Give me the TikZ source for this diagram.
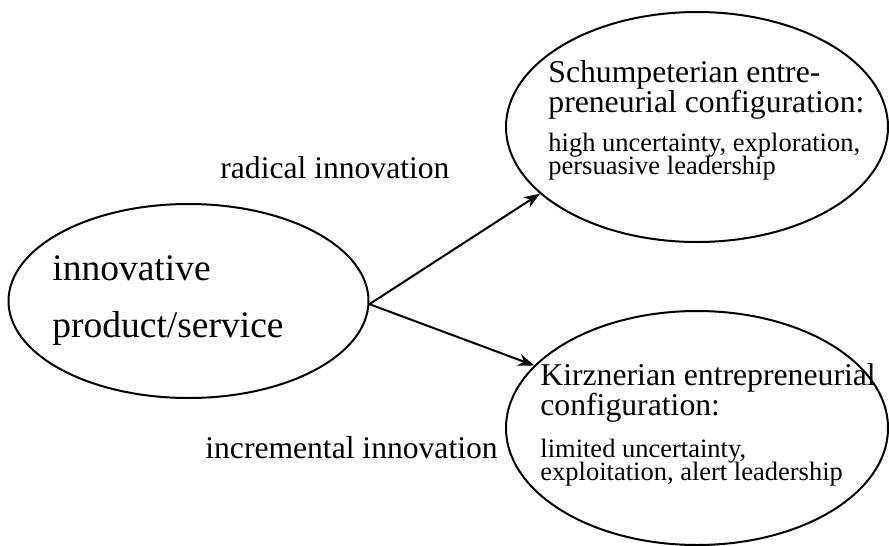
\documentclass[tikz,border=0pt]{standalone}
\usepackage{fontspec}
\setmainfont{Liberation Serif}
\usetikzlibrary{shapes.geometric}
\usetikzlibrary{arrows.meta}

\newcommand{\tightlines}{\lineskiplimit=-20pt\relax}

\tikzset{
  bubble/.style={draw, ellipse, line width=1pt, inner sep=0pt},
  bigtxt/.style={anchor=base west, inner sep=0pt, align=left,
    font=\fontsize{18.75}{28.5}\selectfont},
  headtxt/.style={anchor=base west, inner sep=0pt, align=left,
    font={\fontsize{15.85}{15}\selectfont\tightlines}},
  smalltxt/.style={anchor=base west, inner sep=0pt, align=left,
    font={\fontsize{13.25}{11.3}\selectfont\tightlines}},
  lbltxt/.style={anchor=base west, inner sep=0pt,
    font=\fontsize{15.8}{18}\selectfont},
  flow/.style={line width=1pt, -{Stealth[length=8pt,width=6pt]}}
}

\begin{document}
\begin{tikzpicture}[x=0.5pt,y=-0.5pt]
\useasboundingbox (0,0) rectangle (889,546);
% the three ellipses
\node[bubble, minimum width=180pt, minimum height=97pt] (inno) at (188.5,301) {};
\node[bubble, minimum width=191pt, minimum height=115pt] (schump) at (697,127) {};
\node[bubble, minimum width=191pt, minimum height=117pt] (kirz) at (697,428) {};
% texts (base = baseline of the last line)
\node[bigtxt] (innotxt) at (52,337) {innovative\\product/service};
\node[headtxt] (schumphead) at (548,112) {Schumpeterian entre-\\preneurial configuration:};
\node[smalltxt] (schumpsub) at (548,174) {high uncertainty, exploration,\\persuasive leadership};
\node[headtxt] (kirzhead) at (540,415) {Kirznerian entrepreneurial\\configuration:};
\node[smalltxt] (kirzsub) at (540,480) {limited uncertainty,\\exploitation, alert leadership};
% arrows
\draw[flow] (inno.-1) -- (schump.203);
\draw[flow] (inno.-1) -- (kirz.159);
\node[lbltxt] (radical) at (220,178) {radical innovation};
\node[lbltxt] (incremental) at (205,458) {incremental innovation};
%\draw (inno.east) -- (radical);
\end{tikzpicture}
\end{document}
